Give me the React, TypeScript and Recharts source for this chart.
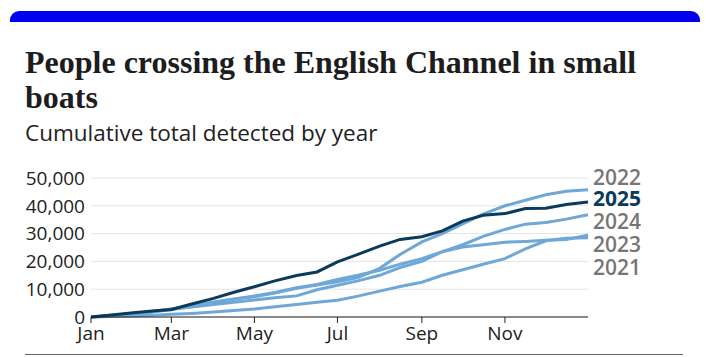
import React from "react";
import { LineChart, Line, XAxis, YAxis, CartesianGrid } from "recharts";

const days = [0, 15, 31, 45, 59, 74, 90, 105, 120, 135, 151, 166, 181, 196, 212, 227, 243, 258, 273, 288, 304, 319, 334, 349, 365];

const y2025 = [0, 700, 1500, 2200, 2700, 4700, 6700, 8900, 10900, 13000, 14900, 16200, 19800, 22500, 25500, 27900, 28900, 31000, 34500, 36600, 37200, 39000, 39100, 40500, 41400];
const y2022 = [0, 500, 1300, 1900, 2600, 3800, 5200, 6400, 7300, 8600, 10300, 11500, 12700, 14200, 17500, 22500, 27000, 30000, 33500, 37000, 40000, 42000, 44000, 45200, 45800];
const y2024 = [0, 400, 1100, 2000, 2900, 4000, 5400, 6500, 7600, 8800, 10500, 11700, 13500, 15000, 16800, 19000, 21000, 23500, 26000, 29000, 31500, 33400, 34000, 35200, 36800];
const y2023 = [0, 600, 1200, 1800, 2900, 3600, 4500, 5300, 6100, 6900, 7600, 9800, 11400, 13000, 15000, 17800, 20000, 23500, 25200, 26000, 26900, 27200, 27600, 27900, 29400];
const y2021 = [0, 150, 350, 650, 950, 1300, 1800, 2300, 2900, 3700, 4500, 5300, 6000, 7500, 9300, 11000, 12500, 15000, 17000, 19000, 21000, 24500, 27400, 28300, 28500];

const monthTicks = [0, 59, 120, 181, 243, 304];
const monthLabels = ["Jan", "Mar", "May", "Jul", "Sep", "Nov"];
const yTicks = [0, 10000, 20000, 30000, 40000, 50000];

const seriesLabels = [
  { text: "2022", top: 166, color: "#767676", weight: 600 },
  { text: "2025", top: 187, color: "#0b3b5a", weight: 700 },
  { text: "2024", top: 210, color: "#767676", weight: 600 },
  { text: "2023", top: 233, color: "#767676", weight: 600 },
  { text: "2021", top: 256, color: "#767676", weight: 600 },
];

const data = days.map((d, i) => ({
  day: d,
  y2021: y2021[i],
  y2022: y2022[i],
  y2023: y2023[i],
  y2024: y2024[i],
  y2025: y2025[i],
}));

const LIGHT = "#6fa7d7";
const DARK = "#0b3b5a";
const SANS = "'Open Sans', 'Noto Sans', sans-serif";

export default function App() {
  return (
    <div style={{ position: "absolute", left: 0, top: 0, width: 709, height: 357, background: "#fff", overflow: "hidden" }}>
      <div style={{ position: "absolute", left: 10, top: 11, width: 690, height: 11, background: "#0000f0", borderRadius: "9px 9px 0 0" }} />
      <div
        style={{
          position: "absolute",
          left: 25,
          top: 45,
          width: 670,
          fontFamily: "'Liberation Serif', serif",
          fontWeight: 700,
          fontSize: 32,
          lineHeight: "35px",
          color: "#1d1d1d",
          whiteSpace: "nowrap",
        }}
      >
        People crossing the English Channel in small
        <br />
        boats
      </div>
      <div style={{ position: "absolute", left: 25, top: 118, fontFamily: SANS, fontSize: 22.5, lineHeight: "30px", color: "#222" }}>
        Cumulative total detected by year
      </div>
      <div style={{ position: "absolute", left: 0, top: 0 }}>
        <LineChart width={709} height={357} data={data} margin={{ top: 178, right: 121, bottom: 10, left: 0 }}>
          <CartesianGrid vertical={false} stroke="#e4e4e4" />
          <XAxis
            dataKey="day"
            type="number"
            domain={[0, 365]}
            ticks={monthTicks}
            height={30}
            tickFormatter={(v: number) => monthLabels[monthTicks.indexOf(v)]}
            stroke="#222"
            tickSize={6}
            tickMargin={4}
            tick={{ fill: "#222", fontSize: 19, fontFamily: SANS }}
            interval={0}
          />
          <YAxis
            type="number"
            domain={[0, 50000]}
            ticks={yTicks}
            width={91}
            axisLine={false}
            tickLine={false}
            tickSize={0}
            tickMargin={6}
            tickFormatter={(v: number) => v.toLocaleString("en-GB")}
            tick={{ fill: "#222", fontSize: 19, fontFamily: SANS }}
            interval={0}
          />
          <Line dataKey="y2021" stroke={LIGHT} strokeWidth={3} dot={false} isAnimationActive={false} />
          <Line dataKey="y2023" stroke={LIGHT} strokeWidth={3} dot={false} isAnimationActive={false} />
          <Line dataKey="y2024" stroke={LIGHT} strokeWidth={3} dot={false} isAnimationActive={false} />
          <Line dataKey="y2022" stroke={LIGHT} strokeWidth={3} dot={false} isAnimationActive={false} />
          <Line dataKey="y2025" stroke={DARK} strokeWidth={3} dot={false} isAnimationActive={false} />
        </LineChart>
      </div>
      {seriesLabels.map((l) => (
        <div
          key={l.text}
          style={{
            position: "absolute",
            left: 593,
            top: l.top,
            fontFamily: SANS,
            fontSize: 21,
            lineHeight: "22px",
            fontWeight: l.weight,
            color: l.color,
          }}
        >
          {l.text}
        </div>
      ))}
      <div style={{ position: "absolute", left: 25, top: 354, width: 658, height: 1, background: "#666" }} />
    </div>
  );
}
